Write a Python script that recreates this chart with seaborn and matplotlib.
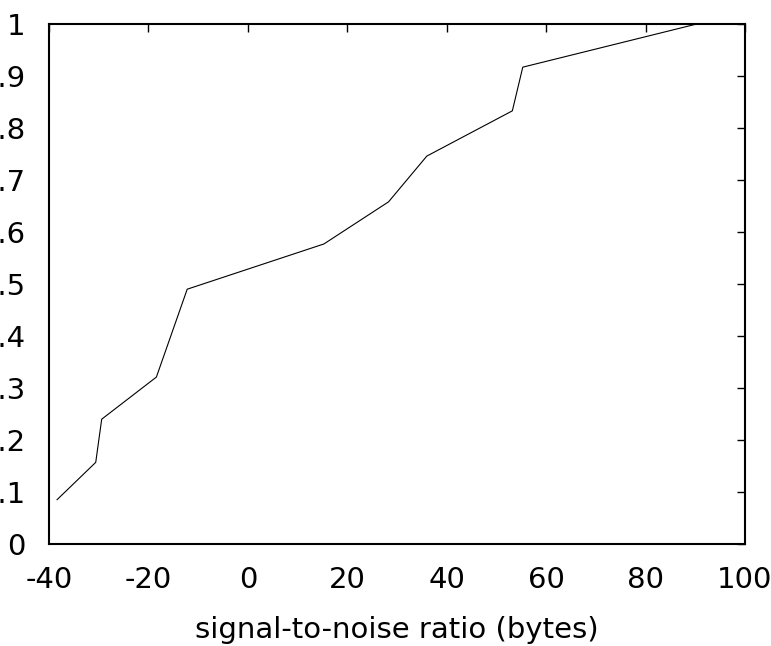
import pandas as pd
import numpy as np
import matplotlib
matplotlib.use('Agg')
import matplotlib.pyplot as plt
import seaborn as sns

sns.set_style('white')
plt.rcParams['font.family'] = ['DejaVu Sans']

# values
snr = [-38.4, -30.6, -29.4, -18.4, -12.2, 15.3, 28.3, 36.0, 53.2, 55.3, 90.3]
frac = [0.085, 0.157, 0.240, 0.321, 0.490, 0.577, 0.658, 0.746, 0.833, 0.917, 1.0]
xticks = [-40, -20, 0, 20, 40, 60, 80, 100]
yticks = [0, 0.1, 0.2, 0.3, 0.4, 0.5, 0.6, 0.7, 0.8, 0.9, 1]
ylabels = ['0', '0.1', '0.2', '0.3', '0.4', '0.5', '0.6', '0.7', '0.8', '0.9', '1']

data = pd.DataFrame({'snr': snr, 'frac': frac})

fig = plt.figure(figsize=(7.71, 6.46), dpi=100)
ax = fig.add_axes([49/771, 102/646, 696/771, 520/646])
sns.lineplot(data=data, x='snr', y='frac', ax=ax, color='black', linewidth=0.8,
             sort=False, estimator=None)

ax.set_xlim(-40, 100)
ax.set_ylim(0, 1)
ax.set_xticks(xticks)
ax.set_xticklabels([str(t) for t in xticks])
ax.set_yticks(yticks)
ax.set_yticklabels(ylabels)
ax.tick_params(direction='in', length=6, width=1, labelsize=21,
               top=True, right=True, pad=17, colors='black')
ax.tick_params(axis='x', pad=16)
for s in ax.spines.values():
    s.set_linewidth(1.5)
    s.set_color('black')
ax.set_xlabel('signal-to-noise ratio (bytes)', fontsize=21, labelpad=16, color='black')
ax.set_ylabel('')
ax.grid(False)

fig.savefig('out.png', dpi=100)
